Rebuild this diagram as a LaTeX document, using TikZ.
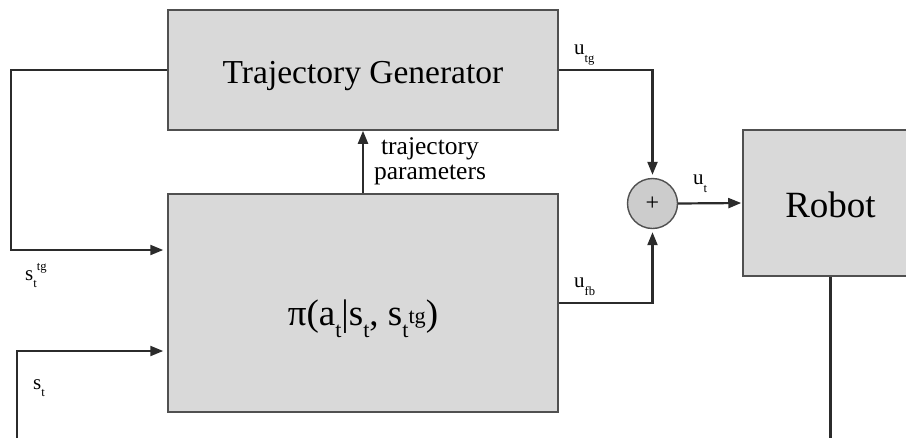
\documentclass[tikz,border=0pt]{standalone}
\usepackage{fontspec}
\setmainfont{Liberation Serif}
\usepackage{xcolor}
\usetikzlibrary{arrows.meta, positioning, calc}

\definecolor{boxfill}{HTML}{D9D9D9}
\definecolor{sumfill}{HTML}{CCCCCC}
\definecolor{wirecol}{HTML}{2B2B2B}
\definecolor{edgecol}{HTML}{505050}

% indices decales (style diapo)
\newcommand{\lo}[2][0.42em]{\raisebox{-#1}{\scalebox{0.6}{#2}}}
\newcommand{\hi}[2][0.45em]{\raisebox{#1}{\scalebox{0.6}{#2}}}

\tikzset{
  block/.style={draw=edgecol, line width=1.5pt, fill=boxfill, rectangle, inner sep=0pt, text depth=0pt},
  wire/.style={draw=wirecol, line width=2.2pt},
  arr/.style={wire, -{Triangle[length=13pt,width=10pt]}},
  lbl/.style={anchor=base west, inner sep=0pt, font=\fontsize{21}{24}\selectfont},
}

\begin{document}
\begin{tikzpicture}[x=1pt, y=-1pt]
  \useasboundingbox (0,0) rectangle (906,437);
  \clip (0,0) rectangle (906,437);

  % Blocs
  \node[block, minimum width=390pt, minimum height=120pt, text height=26pt,
        font=\fontsize{33.5}{40}\selectfont] (tg) at (363,70) {Trajectory Generator};
  \node[block, minimum width=390pt, minimum height=218pt, text height=44pt,
        font=\fontsize{37}{44}\selectfont] (pol) at (363,303)
        {π(a\lo[0.35em]{t}|s\lo[0.35em]{t}, s\lo[0.35em]{t}\hi[0.05em]{tg})};
  \node[block, minimum width=175pt, minimum height=146pt, text height=28pt,
        font=\fontsize{37}{44}\selectfont] (robot) at (830.5,203) {Robot};
  \node[circle, draw=edgecol, line width=1.4pt, fill=sumfill, minimum size=50pt,
        inner sep=0pt, font=\fontsize{24}{24}\selectfont] (sum) at (652.5,203.5) {+};

  % Boucle s_t^tg
  \coordinate (loop) at (11,250);
  \draw[arr, shorten >=4pt] (tg.west) -| (loop) -- (loop -| pol.west);
  % Entree s_t
  \coordinate (sin) at (17,440);
  \coordinate (sbend) at (17,351);
  \draw[arr, shorten >=4pt] (sin) -- (sbend) -- (sbend -| pol.west);

  % Parametres de trajectoire
  \draw[arr] (pol.north) -- (tg.south);
  \node[anchor=north, align=center, inner sep=0pt, font=\fontsize{25.5}{25}\selectfont]
    (tpar) at (430,137) {trajectory\\parameters};

  % Sommation
  \draw[arr, shorten >=3pt] (tg.east) -| (sum.north);
  \draw[arr, shorten >=3pt] (pol.east) -| (sum.south);
  \draw[arr, shorten >=1pt] (sum.east) -- (robot.west);
  \coordinate (rout) at (830.5,440);
  \draw[wire] (robot.south) -- (rout);

  % Etiquettes
  \node[lbl] (utg) at (574,54) {u\lo{tg}};
  \node[lbl] (ufb) at (574,287) {u\lo{fb}};
  \node[lbl] (ut) at (693,184) {u\lo{t}};
  \node[lbl] (stg) at (25,280) {s\lo[0.38em]{t}\hi{tg}};
  \node[lbl] (st) at (33,389) {s\lo[0.38em]{t}};
\end{tikzpicture}
\end{document}
